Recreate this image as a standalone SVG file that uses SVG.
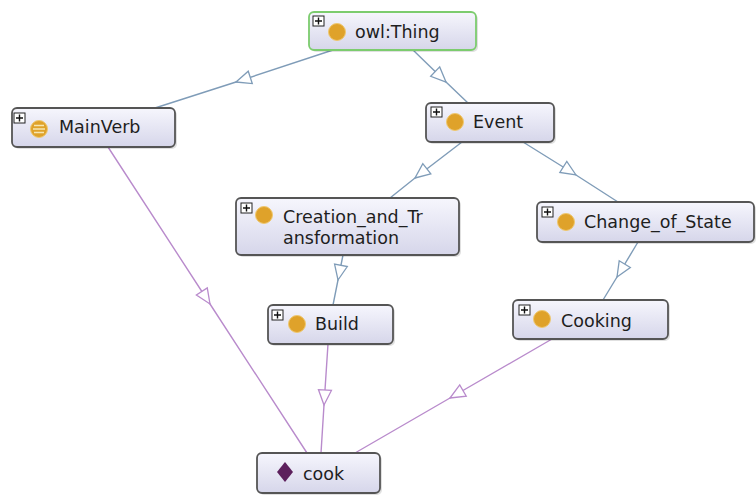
<svg xmlns="http://www.w3.org/2000/svg" width="756" height="495" viewBox="0 0 756 495">
<defs>
<linearGradient id="nodeFill" x1="0" y1="0" x2="0" y2="1">
<stop offset="0" stop-color="#f6f6fd"/>
<stop offset="1" stop-color="#d6d6ea"/>
</linearGradient>
<marker id="triBlue" markerUnits="userSpaceOnUse" viewBox="-17 -9 19 18" markerWidth="19" markerHeight="18" refX="0" refY="0" orient="auto">
<path d="M0,0 L-15,-6.5 L-15,6.5 Z" fill="#ffffff" stroke="#7f9cb8" stroke-width="1.3"/>
</marker>
<marker id="triPurple" markerUnits="userSpaceOnUse" viewBox="-17 -9 19 18" markerWidth="19" markerHeight="18" refX="0" refY="0" orient="auto">
<path d="M0,0 L-15,-6.5 L-15,6.5 Z" fill="#ffffff" stroke="#b98bcc" stroke-width="1.3"/>
</marker>
</defs>
<style>
.box{fill:url(#nodeFill);stroke:#555;stroke-width:1.8}
.shadow{fill:#000;opacity:0.12}
.sel{stroke:#7ccc6e}
.plus{fill:#fff;stroke:#222;stroke-width:1}
.plusmark{stroke:#111;stroke-width:1.4}
.cls{fill:#dfa22a;stroke:#efc870;stroke-width:1}
.lbl{font-family:"DejaVu Sans",sans-serif;font-size:17.5px;fill:#1e1e1e}
.eb{fill:none;stroke:#7f9cb8;stroke-width:1.4;marker-mid:url(#triBlue)}
.ep{fill:none;stroke:#b98bcc;stroke-width:1.4;marker-mid:url(#triPurple)}
</style>
<rect width="756" height="495" fill="#ffffff"/>
<g id="connectors">
<path class="eb" d="M333,50 L236,82 L155,108"/>
<path class="eb" d="M413,50 L446,82 L468,103"/>
<path class="eb" d="M462,142 L415,178 L390,198"/>
<path class="eb" d="M523,142 L576,175 L618,202"/>
<path class="eb" d="M343,255 L338,280 L333,305"/>
<path class="eb" d="M638,242 L617,277 L603,300"/>
<path class="ep" d="M108,147 L210,304 L307,453"/>
<path class="ep" d="M328,344 L324,405 L321,453"/>
<path class="ep" d="M552,339 L450,398 L355,453"/>
</g>
<g id="node-owlThing">
<rect class="shadow" x="311" y="14" width="167" height="38" rx="5"/>
<rect class="box sel" x="309" y="12" width="167" height="38" rx="5"/>
<rect class="plus" x="313" y="16" width="11" height="10"/>
<path class="plusmark" d="M315,21 H322 M318.5,17.5 V24.5"/>
<circle class="cls" cx="337" cy="32" r="8.5"/>
<text class="lbl" x="355" y="38">owl:Thing</text>
</g>
<g id="node-Event">
<rect class="shadow" x="428" y="105" width="128" height="39" rx="5"/>
<rect class="box" x="426" y="103" width="128" height="39" rx="5"/>
<rect class="plus" x="431" y="107" width="11" height="10"/>
<path class="plusmark" d="M433,112 H440 M436.5,108.5 V115.5"/>
<circle class="cls" cx="455" cy="122" r="8.5"/>
<text class="lbl" x="473" y="128">Event</text>
</g>
<g id="node-MainVerb">
<rect class="shadow" x="14" y="110" width="163" height="39" rx="5"/>
<rect class="box" x="12" y="108" width="163" height="39" rx="5"/>
<rect class="plus" x="14" y="113" width="11" height="10"/>
<path class="plusmark" d="M16,118 H23 M19.5,114.5 V121.5"/>
<circle class="cls" cx="39" cy="129" r="8.5"/>
<path d="M34,125.5 H44 M33,129 H45 M34,132.5 H44" stroke="#f6e6b0" stroke-width="1.3"/>
<text class="lbl" x="59" y="133">MainVerb</text>
</g>
<g id="node-Creation_and_Transformation">
<rect class="shadow" x="238" y="200" width="223" height="57" rx="5"/>
<rect class="box" x="236" y="198" width="223" height="57" rx="5"/>
<rect class="plus" x="241" y="203" width="11" height="10"/>
<path class="plusmark" d="M243,208 H250 M246.5,204.5 V211.5"/>
<circle class="cls" cx="264" cy="215" r="8.5"/>
<text class="lbl" x="283" y="223">Creation_and_Tr</text>
<text class="lbl" x="283" y="244">ansformation</text>
</g>
<g id="node-Change_of_State">
<rect class="shadow" x="539" y="204" width="217" height="40" rx="5"/>
<rect class="box" x="537" y="202" width="217" height="40" rx="5"/>
<rect class="plus" x="542" y="207" width="11" height="10"/>
<path class="plusmark" d="M544,212 H551 M547.5,208.5 V215.5"/>
<circle class="cls" cx="566" cy="222" r="8.5"/>
<text class="lbl" x="584" y="228">Change_of_State</text>
</g>
<g id="node-Build">
<rect class="shadow" x="270" y="307" width="125" height="39" rx="5"/>
<rect class="box" x="268" y="305" width="125" height="39" rx="5"/>
<rect class="plus" x="272" y="310" width="11" height="10"/>
<path class="plusmark" d="M274,315 H281 M277.5,311.5 V318.5"/>
<circle class="cls" cx="297" cy="324" r="8.5"/>
<text class="lbl" x="315" y="330">Build</text>
</g>
<g id="node-Cooking">
<rect class="shadow" x="515" y="302" width="155" height="39" rx="5"/>
<rect class="box" x="513" y="300" width="155" height="39" rx="5"/>
<rect class="plus" x="519" y="305" width="11" height="10"/>
<path class="plusmark" d="M521,310 H528 M524.5,306.5 V313.5"/>
<circle class="cls" cx="542" cy="319" r="8.5"/>
<text class="lbl" x="561" y="327">Cooking</text>
</g>
<g id="node-cook">
<rect class="shadow" x="259" y="455" width="123" height="40" rx="5"/>
<rect class="box" x="257" y="453" width="123" height="40" rx="5"/>
<path d="M285,462 L293,472 L285,482 L277,472 Z" fill="#5c1f5c"/>
<text class="lbl" x="303" y="480">cook</text>
</g>
</svg>
